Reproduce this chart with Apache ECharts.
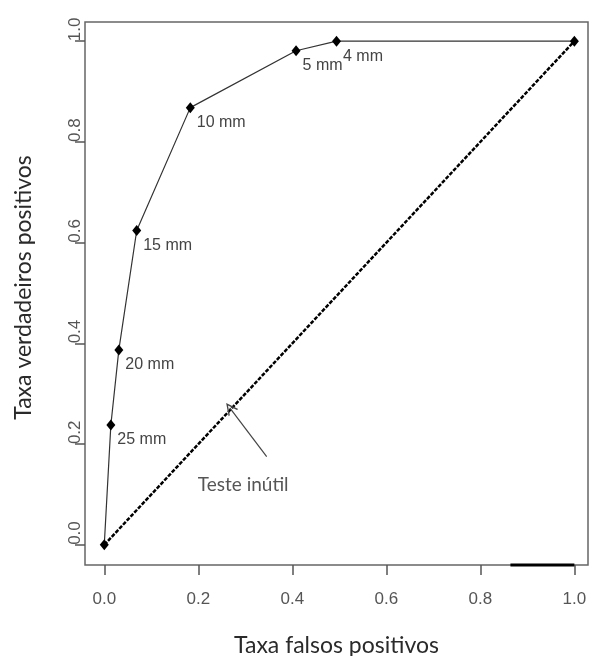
<!DOCTYPE html>
<html>
<head>
<meta charset="utf-8">
<script src="https://cdn.jsdelivr.net/npm/echarts@6/dist/echarts.min.js"></script>
<style>
  html, body { margin: 0; padding: 0; background: #fff; }
  #chart { width: 589px; height: 656px; }
</style>
</head>
<body>
<div id="chart"></div>
<script>
// curva ROC: taxa de falsos positivos x taxa de verdadeiros positivos
var fpr = [0, 0.014, 0.031, 0.069, 0.183, 0.408, 0.494, 1.0];
var tpr = [0, 0.238, 0.387, 0.624, 0.868, 0.981, 1.0, 1.0];
var cutLabels = ['', '25 mm', '20 mm', '15 mm', '10 mm', '5 mm', '4 mm', ''];

// linha do teste inútil (diagonal)
var diagX = [0, 1];
var diagY = [0, 1];

// anotação "Teste inútil"
var noteText = 'Teste inútil';
var notePos = [0.199, 0.119];
var arrowFrom = [0.3455, 0.175];
var arrowTo = [0.267, 0.272];

// pedaço mais grosso no eixo x (como na figura)
var axisMarkX = [0.864, 1.0];
var axisMarkY = [-0.04, -0.04];

var xTicks = [0, 0.2, 0.4, 0.6, 0.8, 1.0];
var yTicks = [0, 0.2, 0.4, 0.6, 0.8, 1.0];

var rocData = fpr.map(function (x, i) {
  return { value: [x, tpr[i]], label: { formatter: cutLabels[i] } };
});
var diagData = diagX.map(function (x, i) { return [x, diagY[i]]; });
var markData = axisMarkX.map(function (x, i) { return [x, axisMarkY[i]]; });

var myChart = echarts.init(document.getElementById('chart'));
var option = {
  backgroundColor: '#fff',
  animation: false,
  grid: {
    left: 85, top: 22, right: 1, bottom: 91,
    show: true, borderColor: '#666', borderWidth: 1.5,
    outerBoundsMode: 'none'
  },
  xAxis: {
    type: 'value',
    min: -0.041, max: 1.029,
    name: 'Taxa falsos positivos',
    nameLocation: 'middle',
    nameGap: 69,
    nameTextStyle: { fontFamily: 'Lato', fontSize: 23, color: '#2a2a2a' },
    axisLine: { show: false, onZero: false },
    splitLine: { show: false },
    axisTick: { show: true, length: 10, customValues: xTicks, lineStyle: { color: '#555', width: 1.5 } },
    axisLabel: {
      customValues: xTicks, margin: 26,
      fontFamily: 'Liberation Sans', fontSize: 17, color: '#555',
      formatter: function (v) { return v.toFixed(1); }
    }
  },
  yAxis: {
    type: 'value',
    min: -0.04, max: 1.038,
    name: 'Taxa verdadeiros positivos',
    nameLocation: 'middle',
    nameGap: 50,
    nameTextStyle: { fontFamily: 'Lato', fontSize: 23, color: '#2a2a2a', padding: [0, 0, 0, 12] },
    axisLine: { show: false, onZero: false },
    splitLine: { show: false },
    axisTick: { show: true, length: 10, customValues: yTicks, lineStyle: { color: '#555', width: 1.5 } },
    axisLabel: {
      customValues: yTicks, margin: 10, rotate: 90,
      align: 'left', verticalAlign: 'middle',
      fontFamily: 'Liberation Sans', fontSize: 17, color: '#555',
      formatter: function (v) { return v.toFixed(1); }
    }
  },
  series: [
    {
      name: 'diagonal',
      type: 'line',
      data: diagData,
      symbol: 'none',
      lineStyle: { color: '#000', width: 2.5, type: [4, 1.5] },
      markLine: {
        silent: true,
        symbol: ['none', 'path://M0,12 L6,0 L12,12 L10.5,12 L6,3 L1.5,12 Z'],
        symbolSize: [12, 12],
        lineStyle: { color: '#444', width: 1.2, type: 'solid' },
        label: { show: false },
        data: [[{ coord: arrowFrom }, { coord: arrowTo }]]
      }
    },
    {
      name: 'ROC',
      type: 'line',
      data: rocData,
      symbol: 'diamond',
      symbolSize: [9, 11],
      itemStyle: { color: '#000' },
      lineStyle: { color: '#333', width: 1.2 },
      label: {
        show: true,
        position: 'right',
        distance: 2,
        offset: [0, 15],
        fontFamily: 'Liberation Sans',
        fontSize: 16,
        color: '#444'
      },
      z: 3
    },
    {
      name: 'nota',
      type: 'scatter',
      data: [notePos],
      symbolSize: 0,
      label: {
        show: true,
        position: 'right',
        distance: 0,
        formatter: noteText,
        fontFamily: 'Lato',
        fontSize: 19,
        color: '#2a2a2a'
      }
    },
    {
      name: 'eixo',
      type: 'line',
      data: markData,
      symbol: 'none',
      clip: false,
      lineStyle: { color: '#000', width: 3 }
    }
  ]
};
myChart.setOption(option);
</script>
</body>
</html>
